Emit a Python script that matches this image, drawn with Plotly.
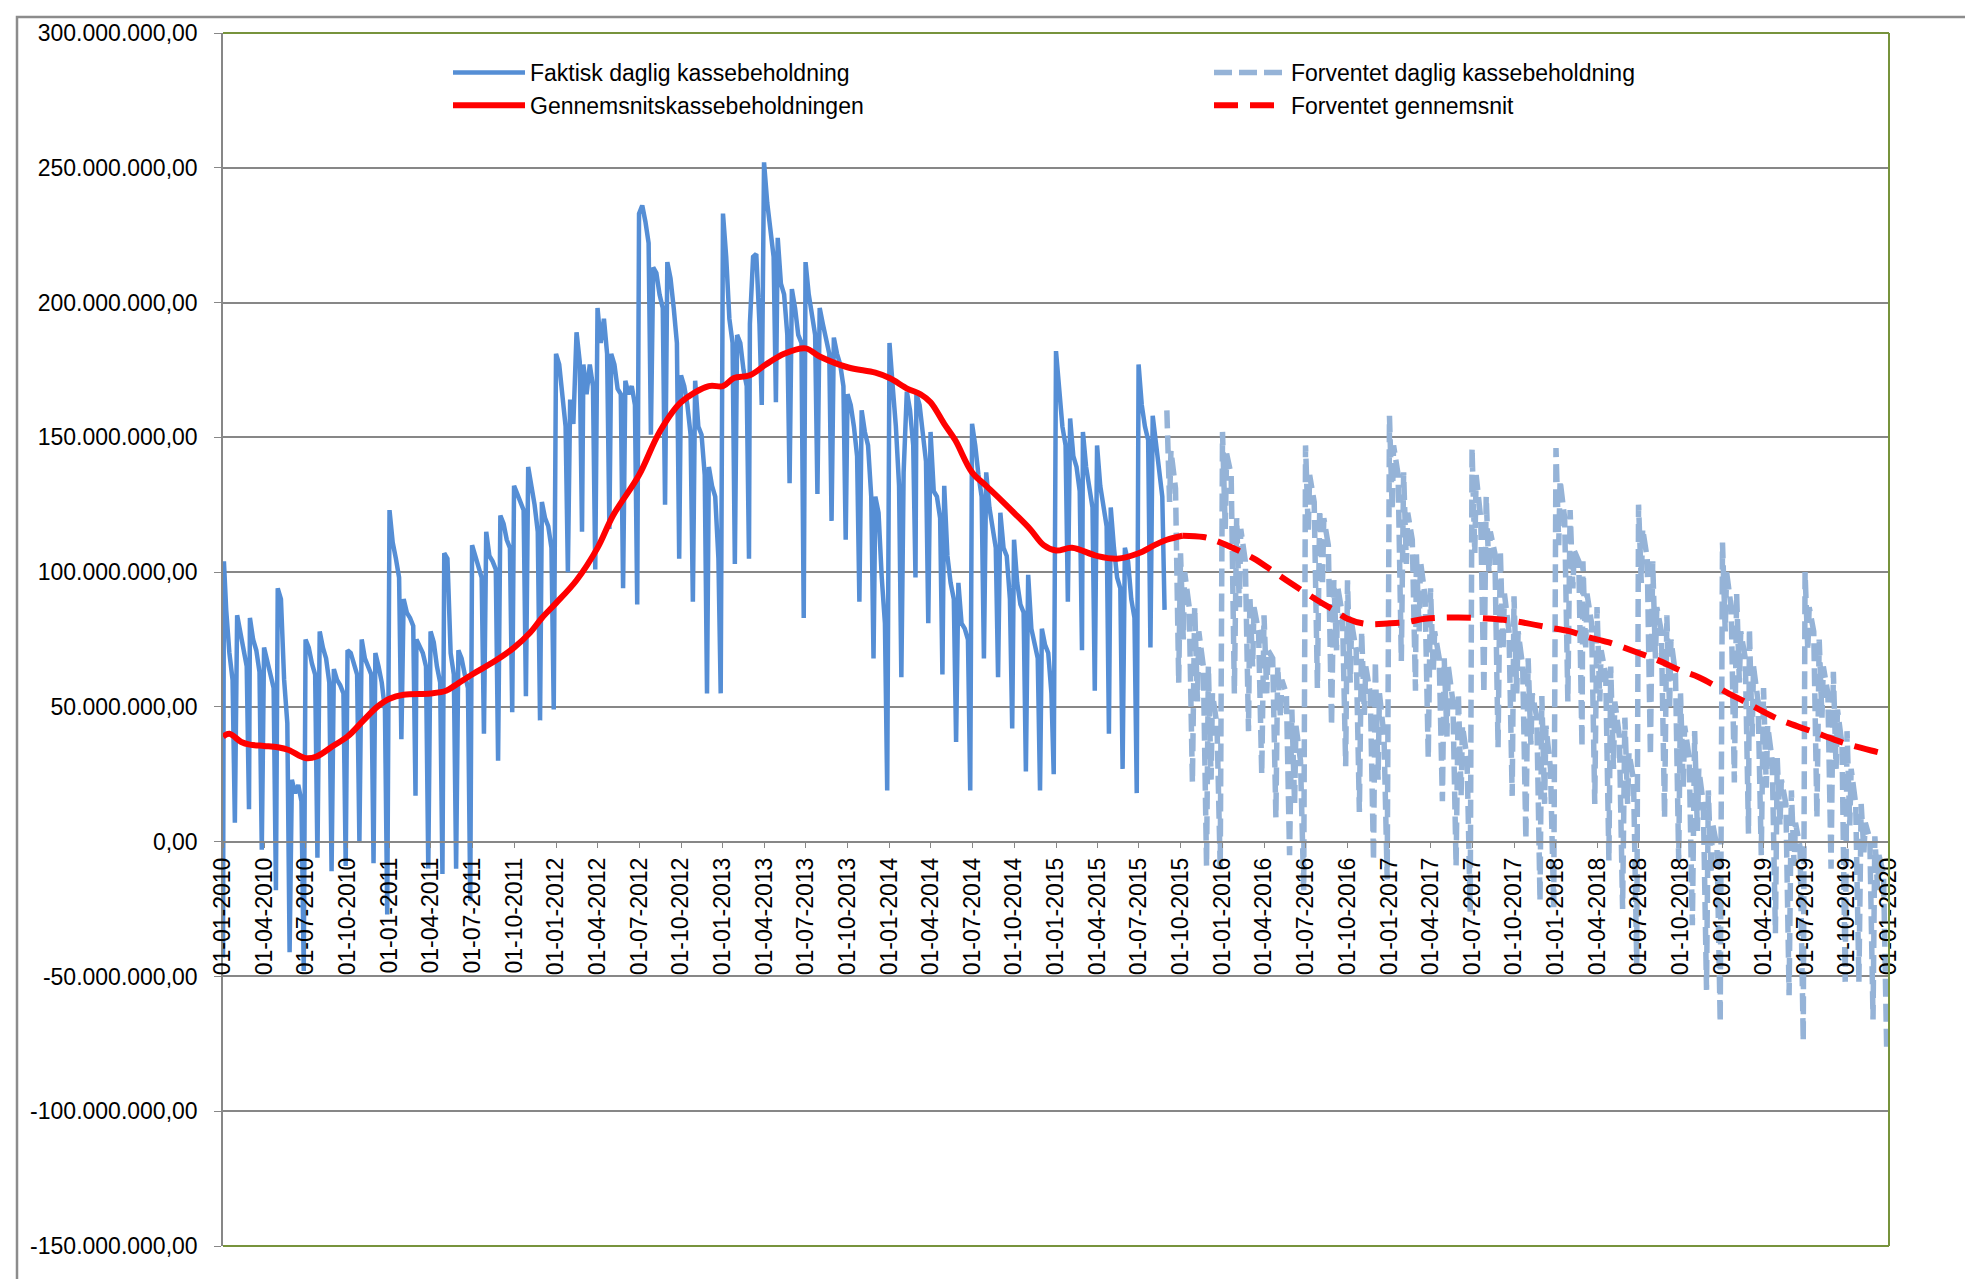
import plotly.graph_objects as go

# ---------------- data (values in millions) ----------------
# Actual daily cash balance, Jan 2010 - Aug 2015: per month [start peak, ~day 8, ~day 15, ~day 22, end-of-month trough]
act_first_day = -43
act_peak = [104, 84, 83, 72, 94, 23, 75, 78, 64, 71, 75, 70,
            123, 90, 75, 78, 107, 71, 110, 115, 121, 132, 139, 126,
            181, 164, 177, 198, 181, 171, 233, 213, 215, 173, 171, 139,
            233, 188, 192, 252, 224, 205, 215, 198, 187, 166, 160, 128,
            185, 137, 166, 152, 132, 96, 155, 137, 122, 112, 99, 79,
            182, 157, 152, 147, 124, 109, 177, 158]
act_v2 = [86, 78, 75, 66, 90, 18, 72, 72, 60, 70, 68, 65,
          111, 85, 72, 74, 105, 68, 106, 106, 118, 129, 132, 120,
          177, 155, 166, 185, 177, 166, 236, 211, 209, 169, 154, 132,
          217, 185, 217, 237, 207, 198, 203, 192, 181, 162, 152, 122,
          169, 167, 162, 130, 106, 81, 147, 124, 109, 96, 79, 73,
          166, 143, 139, 132, 109, 104, 162, 147]
act_v3 = [70, 70, 71, 62, 60, 21, 66, 68, 58, 66, 65, 59,
          105, 83, 70, 65, 70, 62, 102, 104, 112, 126, 125, 117,
          165, 189, 177, 194, 168, 169, 230, 203, 198, 162, 151, 128,
          194, 175, 218, 226, 203, 188, 196, 186, 177, 154, 147, 98,
          154, 160, 151, 128, 96, 79, 136, 117, 106, 88, 73, 70,
          154, 139, 132, 124, 98, 90, 154, 139]
act_v4 = [60, 65, 63, 57, 44, 15, 62, 59, 55, 62, 62, 49,
          98, 80, 65, 59, 62, 57, 98, 101, 109, 123, 115, 109,
          154, 178, 169, 181, 166, 162, 222, 198, 185, 151, 136, 105,
          185, 169, 192, 217, 188, 185, 188, 181, 169, 143, 128, 81,
          132, 147, 141, 120, 90, 75, 128, 109, 90, 85, 68, 55,
          147, 130, 124, 117, 94, 83, 149, 128]
act_trough = [7, 12, -3, -18, -41, -48, -6, -11, -9, 0, -8, -27,
              38, 17, -10, -12, -10, -22, 40, 30, 48, 54, 45, 49,
              100, 115, 101, 116, 94, 88, 151, 125, 105, 89, 55, 55,
              103, 105, 162, 163, 133, 83, 129, 119, 112, 89, 68, 19,
              61, 98, 81, 62, 37, 19, 68, 61, 42, 26, 19, 25,
              89, 71, 56, 40, 27, 18, 72, 86]

# Forecast daily cash balance, Sep 2015 - Dec 2019: per month [top, 2nd, 3rd, 4th level, end-of-month low]
fc_top = [160, 107, 87, 65,
          152, 120, 91, 84, 65, 49, 147, 123, 97, 97, 78, 67,
          158, 137, 107, 94, 68, 55, 146, 128, 108, 91, 68, 54,
          146, 123, 104, 87, 65, 46, 125, 104, 84, 55, 41, 19,
          111, 92, 79, 57, 31, 19, 100, 75, 63, 41, 14, 2]
fc_v2 = [145, 100, 78, 55,
         144, 116, 87, 71, 60, 43, 136, 120, 94, 81, 65, 55,
         147, 122, 104, 78, 65, 43, 136, 115, 92, 78, 55, 43,
         134, 108, 92, 71, 52, 33, 116, 87, 75, 43, 27, 7,
         100, 78, 65, 43, 23, 7, 87, 65, 49, 27, 7, -5]
fc_v3 = [131, 87, 65, 43,
         136, 104, 78, 68, 55, 30, 126, 110, 84, 71, 55, 39,
         136, 112, 91, 68, 52, 31, 120, 107, 78, 65, 46, 27,
         120, 104, 81, 62, 39, 23, 105, 78, 62, 31, 14, -2,
         87, 68, 52, 30, 14, -2, 78, 55, 36, 14, 1, -12]
fc_v4 = [126, 75, 52, 23,
         116, 87, 65, 55, 46, 14, 115, 95, 71, 59, 47, 23,
         123, 103, 78, 63, 39, 17, 107, 100, 71, 55, 36, 14,
         110, 94, 71, 52, 27, 14, 96, 68, 49, 20, 4, -12,
         78, 59, 39, 20, 6, -9, 71, 46, 27, 6, -4, -18]
fc_low = [59, 22, -9, -10,
          55, 41, 25, 9, -5, -18, 57, 43, 28, 11, -7, -14,
          67, 56, 31, 15, -9, -26, 55, 35, 17, 1, -22, -25,
          52, 35, 14, -7, -25, -45, 32, 9, -7, -31, -55, -67,
          22, 3, -5, -34, -57, -74, 9, -10, -52, -52, -66, -78]

# Running average (actual)
avg_dates = ["2010-01-01", "2010-01-15", "2010-02-10", "2010-03-01", "2010-04-01", "2010-05-01",
             "2010-05-25", "2010-07-01", "2010-07-25", "2010-08-30", "2010-10-01", "2010-11-05",
             "2010-12-05", "2011-01-01", "2011-02-01", "2011-04-01", "2011-05-05", "2011-05-25",
             "2011-07-01", "2011-08-20", "2011-10-01", "2011-11-05", "2011-12-01", "2012-01-01",
             "2012-02-15", "2012-04-01", "2012-05-05", "2012-07-01", "2012-08-15", "2012-10-01",
             "2012-12-01", "2013-01-01", "2013-01-25", "2013-03-01", "2013-04-05", "2013-05-15",
             "2013-07-01", "2013-08-01", "2013-10-01", "2013-12-01", "2014-01-01", "2014-02-10",
             "2014-03-10", "2014-04-01", "2014-05-01", "2014-05-25", "2014-07-01", "2014-08-01",
             "2014-09-01", "2014-10-01", "2014-11-05", "2014-12-05", "2015-01-01", "2015-02-05",
             "2015-04-01", "2015-05-15", "2015-07-01", "2015-08-05", "2015-09-01", "2015-10-05"]
avg_vals = [39, 40, 37, 36, 35.5, 35, 34, 31, 31.6, 35.5, 39, 45,
            50, 53, 54.5, 55, 56, 58, 62, 67, 72, 77.5, 83, 88.5,
            97, 109, 121, 136, 152, 163, 169, 169, 172, 173, 177, 181,
            183, 180, 176, 174, 172, 168, 166, 163, 155, 149, 137, 132,
            127, 122, 116, 110, 108, 109, 106, 105, 107, 110, 112, 113.5]

# Expected average (forecast)
favg_dates = ["2015-10-05", "2015-11-20", "2015-12-20", "2016-02-05", "2016-03-10", "2016-04-15",
              "2016-05-20", "2016-06-25", "2016-08-01", "2016-09-05", "2016-10-01", "2016-11-10",
              "2017-01-01", "2017-02-10", "2017-03-20", "2017-06-01", "2017-09-01", "2017-10-10",
              "2017-12-15", "2018-02-01", "2018-03-10", "2018-04-25", "2018-07-01", "2018-08-10",
              "2018-10-01", "2018-11-10", "2019-01-10", "2019-02-25", "2019-04-01", "2019-05-10",
              "2019-07-01", "2019-08-10", "2019-10-01", "2019-12-05", "2020-01-01"]
favg_vals = [113.5, 113, 111.5, 108, 105, 101, 97, 93, 89, 85.5, 82.7, 80.8,
             81, 81.5, 82.7, 83.2, 82.4, 81.6, 79.5, 78, 76, 74, 70, 67.5,
             63.5, 61, 55.4, 51.4, 48.2, 45, 41.8, 39.4, 36.2, 33.3, 32.2]

y_tickvals = [300, 250, 200, 150, 100, 50, 0, -50, -100, -150]
y_ticktext = ["300.000.000,00", "250.000.000,00", "200.000.000,00", "150.000.000,00",
              "100.000.000,00", "50.000.000,00", "0,00", "-50.000.000,00",
              "-100.000.000,00", "-150.000.000,00"]
x_tickvals = ["%d-%02d-01" % (yr, mo) for yr in range(2010, 2020) for mo in (1, 4, 7, 10)] + ["2020-01-01"]
x_ticktext = ["01-%s-%s" % (d[5:7], d[0:4]) for d in x_tickvals]

M = 1e6

def month_str(start_year, start_month, i):
    k = start_month - 1 + i
    return start_year + k // 12, k % 12 + 1

# build actual path
ax, ay = ["2010-01-01"], [act_first_day * M]
for i, vals in enumerate(zip(act_peak, act_v2, act_v3, act_v4, act_trough)):
    yr, mo = month_str(2010, 1, i)
    days = [3 if i == 0 else 1, 8, 15, 22, 27]
    for d, v in zip(days, vals):
        ax.append("%d-%02d-%02d" % (yr, mo, d))
        ay.append(v * M)

# build forecast path: top -> lower level -> rebound -> mid level -> month-end low
fx, fy = [], []
for i, (t, a, b, c, l) in enumerate(zip(fc_top, fc_v2, fc_v3, fc_v4, fc_low)):
    yr, mo = month_str(2015, 9, i)
    for d, v in zip([1, 7, 10, 20, 27], [t, c, a, b, l]):
        fx.append("%d-%02d-%02d" % (yr, mo, d))
        fy.append(v * M)

BLUE = "#558ED5"
LBLUE = "#95B3D7"
RED = "#FF0000"
GRID = "#878787"
OLIVE = "#77933C"
FONT = "Liberation Sans, Arial, sans-serif"

fig = go.Figure()
fig.add_trace(go.Scatter(x=fx, y=fy, mode="lines", name="Forventet daglig kassebeholdning",
                         line=dict(color=LBLUE, width=5.5, dash="18px,7px"), legend="legend2"))
fig.add_trace(go.Scatter(x=ax, y=ay, mode="lines", name="Faktisk daglig kassebeholdning",
                         line=dict(color=BLUE, width=4.5), legend="legend"))
fig.add_trace(go.Scatter(x=avg_dates, y=[v * M for v in avg_vals], mode="lines",
                         name="Gennemsnitskassebeholdningen",
                         line=dict(color=RED, width=6, shape="spline"), legend="legend"))
fig.add_trace(go.Scatter(x=favg_dates, y=[v * M for v in favg_vals], mode="lines",
                         name="Forventet gennemsnit",
                         line=dict(color=RED, width=6, dash="24px,12px", shape="spline"), legend="legend2"))

W, H = 1973, 1279
L, R, T, B = 215, 1881, 21, 1238
pw, ph = R - L, B - T

def px(x):
    return (x - L) / pw

def py(y):
    return (B - y) / ph

fig.update_layout(
    width=W, height=H,
    margin=dict(l=L, r=W - R, t=T, b=H - B),
    paper_bgcolor="white", plot_bgcolor="white",
    font=dict(family=FONT, size=23, color="black"),
    hovermode=False,
    legend=dict(x=px(440), y=py(39), xanchor="left", yanchor="top", traceorder="normal",
                bgcolor="rgba(0,0,0,0)", itemwidth=72, tracegroupgap=0,
                font=dict(family=FONT, size=23, color="black")),
    legend2=dict(x=px(1201), y=py(39), xanchor="left", yanchor="top", traceorder="normal",
                 bgcolor="rgba(0,0,0,0)", itemwidth=72, tracegroupgap=0,
                 font=dict(family=FONT, size=23, color="black")),
    xaxis=dict(type="date", range=["2010-01-01", "2020-01-01"], tickvals=x_tickvals,
               ticktext=x_ticktext, tickangle=-90, showgrid=False, showline=True,
               linecolor=GRID, linewidth=1.5, ticks="outside", ticklen=6, tickcolor=GRID,
               anchor="free", position=1 / 3, zeroline=False,
               tickfont=dict(family=FONT, size=23, color="black")),
    yaxis=dict(range=[-150 * M, 300 * M], tickvals=[v * M for v in y_tickvals],
               ticktext=y_ticktext, showgrid=True, gridcolor=GRID, gridwidth=1.5,
               showline=True, linecolor=GRID, linewidth=1.5, ticks="outside", ticklen=7,
               tickcolor=GRID, zeroline=False, ticklabelstandoff=12,
               tickfont=dict(family=FONT, size=23, color="black")),
)

shapes = [
    dict(type="line", xref="paper", yref="paper", x0=0, x1=1, y0=1, y1=1, line=dict(color=OLIVE, width=2)),
    dict(type="line", xref="paper", yref="paper", x0=1, x1=1, y0=0, y1=1, line=dict(color=OLIVE, width=2)),
    dict(type="line", xref="paper", yref="paper", x0=0, x1=1, y0=0, y1=0, line=dict(color=OLIVE, width=2)),
    dict(type="rect", xref="paper", yref="paper", x0=px(9), x1=px(1963), y0=py(5), y1=py(1290),
         line=dict(color="#8C8C8C", width=2.5), layer="below"),
]
fig.update_layout(shapes=shapes)

fig.write_html("out.html")
